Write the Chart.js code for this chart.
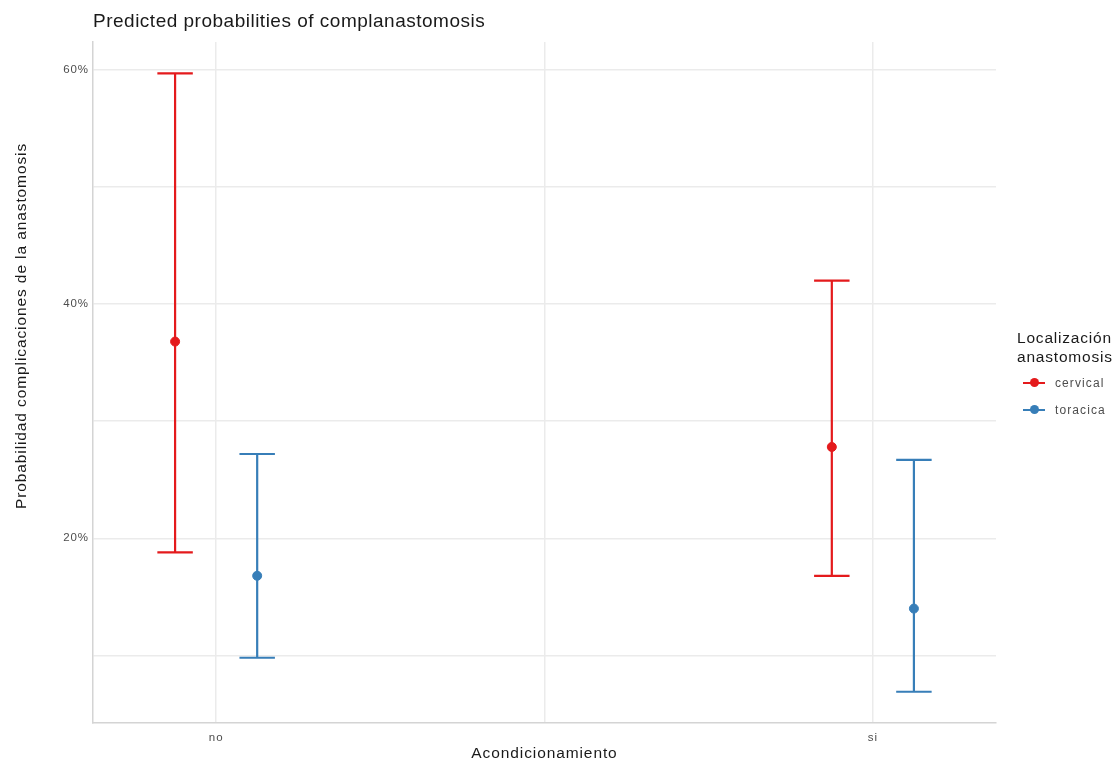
<!DOCTYPE html>
<html>
<head>
<meta charset="utf-8">
<script src="https://cdn.jsdelivr.net/npm/chart.js@4.4.1/dist/chart.umd.min.js"></script>
<style>
  body { margin: 0; background: #fff; font-family: "Liberation Sans", Arial, sans-serif; }
  #wrap { position: relative; width: 1114px; height: 763px; }
  #legend { position: absolute; left: 1017px; top: 328px; color: #1a1a1a; }
  #legend .ttl { font-size: 15.5px; line-height: 19px; letter-spacing: 0.8px; white-space: nowrap; margin-bottom: 3px; }
  #legend .item { display: flex; align-items: center; height: 27px; font-size: 12px; letter-spacing: 1.1px; color: #4d4d4d; }
  #legend .key { position: relative; width: 22px; height: 2px; margin: 0 10px 0 6px; }
  #legend .key i { position: absolute; left: 6.5px; top: -3.5px; width: 9px; height: 9px; border-radius: 50%; }
</style>
</head>
<body>
<div id="wrap">
  <canvas id="chart" width="1114" height="763"></canvas>
  <div id="legend"></div>
</div>
<script>
const categories = ["no", "si"];
const seriesNames = ["cervical", "toracica"];
const seriesColors = ["#e41a1c", "#377eb8"];
// predicted probability (%) and confidence limits, per series, per category
const predicted = [[36.8, 27.8], [16.8, 14.0]];
const lower = [[18.8, 16.8], [9.8, 6.9]];
const upper = [[59.7, 42.0], [27.2, 26.7]];
const yTicks = [10, 20, 30, 40, 50, 60];
const yLabels = [20, 40, 60];

const dodge = [-0.0625, 0.0625];
const capHalf = 0.027;

const datasets = seriesNames.map((name, s) => ({
    label: name,
    data: categories.map((c, i) => ({ x: i + 1 + dodge[s], y: predicted[s][i] })),
    backgroundColor: seriesColors[s],
    borderColor: seriesColors[s],
    pointRadius: 4.5,
    pointHoverRadius: 4.5,
    showLine: false
}));

const errorBars = {
    id: 'errorBars',
    beforeDraw(chart) {
        // wider letter spacing, closer to the R rendering
        chart.ctx.letterSpacing = '0.9px';
    },
    beforeDatasetsDraw(chart) {
        const { ctx, scales: { x, y } } = chart;
        ctx.save();
        ctx.lineWidth = 2.2;
        seriesNames.forEach((name, s) => {
            ctx.strokeStyle = seriesColors[s];
            categories.forEach((c, i) => {
                const cx = x.getPixelForValue(i + 1 + dodge[s]);
                const x0 = x.getPixelForValue(i + 1 + dodge[s] - capHalf);
                const x1 = x.getPixelForValue(i + 1 + dodge[s] + capHalf);
                const yl = y.getPixelForValue(lower[s][i]);
                const yu = y.getPixelForValue(upper[s][i]);
                ctx.beginPath();
                ctx.moveTo(cx, yl); ctx.lineTo(cx, yu);
                ctx.moveTo(x0, yl); ctx.lineTo(x1, yl);
                ctx.moveTo(x0, yu); ctx.lineTo(x1, yu);
                ctx.stroke();
            });
        });
        ctx.restore();
    }
};

const titlePlugin = {
    id: 'plotTitle',
    afterDraw(chart) {
        const { ctx, chartArea } = chart;
        ctx.save();
        ctx.letterSpacing = '0.5px';
        ctx.font = '19px "Liberation Sans", Arial, sans-serif';
        ctx.fillStyle = '#1a1a1a';
        ctx.textBaseline = 'middle';
        ctx.fillText('Predicted probabilities of complanastomosis', chartArea.left, 22);
        // y axis title
        ctx.letterSpacing = '0.9px';
        ctx.font = '15.5px "Liberation Sans", Arial, sans-serif';
        ctx.textAlign = 'center';
        ctx.translate(22, 326);
        ctx.rotate(-Math.PI / 2);
        ctx.fillText('Probabilidad complicaciones de la anastomosis', 0, 0);
        ctx.restore();
    }
};

// eslint-disable-next-line no-undef
new Chart(document.getElementById('chart'), {
    type: 'scatter',
    data: { datasets },
    options: {
        responsive: false,
        animation: false,
        layout: { padding: { top: 42, right: 118, bottom: 0, left: 0 } },
        scales: {
            x: {
                type: 'linear',
                min: 0.8125,
                max: 2.1875,
                afterBuildTicks: (scale) => { scale.ticks = [1, 1.5, 2].map(v => ({ value: v })); },
                afterFit: (scale) => { scale.height = 40; },
                grid: { color: '#ebebeb', lineWidth: 1.5, drawTicks: false },
                border: { display: true, color: '#d4d4d4', width: 1.5 },
                ticks: {
                    padding: 8,
                    color: '#4d4d4d',
                    font: { family: '"Liberation Sans", Arial', size: 11.5 },
                    callback: (v) => Number.isInteger(v) ? categories[v - 1] : ''
                },
                title: {
                    display: true,
                    text: 'Acondicionamiento',
                    color: '#1a1a1a',
                    font: { family: '"Liberation Sans", Arial', size: 15.5 },
                    padding: { top: 1, bottom: 0 }
                }
            },
            y: {
                min: 4.23,
                max: 62.38,
                afterBuildTicks: (scale) => { scale.ticks = yTicks.map(v => ({ value: v })); },
                afterFit: (scale) => { scale.width = 93; },
                grid: { color: '#ebebeb', lineWidth: 1.5, drawTicks: false },
                border: { display: true, color: '#d4d4d4', width: 1.5 },
                ticks: {
                    padding: 4,
                    color: '#4d4d4d',
                    font: { family: '"Liberation Sans", Arial', size: 11.5 },
                    callback: (v) => yLabels.includes(v) ? v + '%' : ''
                }
            }
        },
        plugins: {
            legend: { display: false },
            tooltip: { enabled: false }
        }
    },
    plugins: [errorBars, titlePlugin]
});

const legendEl = document.getElementById('legend');
legendEl.innerHTML = '<div class="ttl">Localización<br>anastomosis</div>' +
    seriesNames.map((n, s) =>
        `<div class="item"><span class="key" style="background:${seriesColors[s]}"><i style="background:${seriesColors[s]}"></i></span>${n}</div>`
    ).join('');
</script>
</body>
</html>
